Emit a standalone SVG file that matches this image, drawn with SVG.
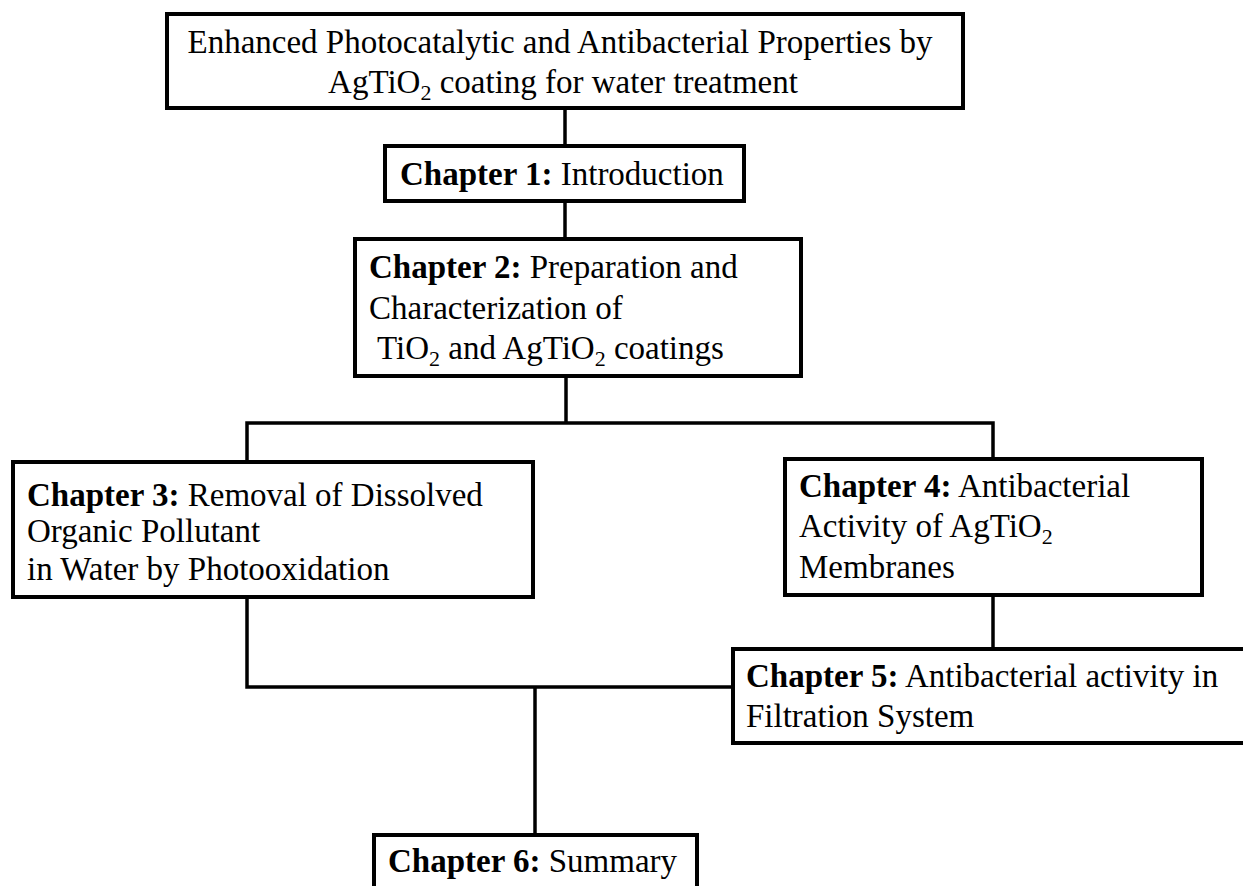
<svg xmlns="http://www.w3.org/2000/svg" width="1243" height="886" viewBox="0 0 1243 886">
<style>
.box{fill:#fff;stroke:#000;stroke-width:4}
.con{fill:none;stroke:#000;stroke-width:3.5}
text{font-family:"Liberation Serif","Times New Roman",serif;font-size:33px;fill:#000}
.b{font-weight:bold}
.sub{font-size:22px}
</style>
<rect width="1243" height="886" fill="#fff"/>
<g id="connectors">
<line class="con" x1="565" y1="108" x2="565" y2="146"/>
<line class="con" x1="565" y1="201" x2="565" y2="239"/>
<line class="con" x1="566" y1="376" x2="566" y2="423"/>
<polyline class="con" points="247,462 247,423 993,423 993,459"/>
<line class="con" x1="993" y1="595" x2="993" y2="649"/>
<polyline class="con" points="247,597 247,687 733,687"/>
<line class="con" x1="535" y1="687" x2="535" y2="835"/>
</g>
<g id="title">
<rect class="box" x="167" y="14" width="796" height="94"/>
<text x="560" y="53" text-anchor="middle">Enhanced Photocatalytic and Antibacterial Properties by</text>
<text x="563" y="93" text-anchor="middle">AgTiO<tspan class="sub" dy="7">2</tspan><tspan dy="-7"> coating for water treatment</tspan></text>
</g>
<g id="ch1">
<rect class="box" x="385" y="146" width="359" height="55"/>
<text x="400" y="185"><tspan class="b">Chapter 1:</tspan> Introduction</text>
</g>
<g id="ch2">
<rect class="box" x="355" y="239" width="446" height="137"/>
<text x="369" y="278"><tspan class="b">Chapter 2:</tspan> Preparation and</text>
<text x="369" y="319">Characterization of</text>
<text x="377" y="359">TiO<tspan class="sub" dy="7">2</tspan><tspan dy="-7"> and AgTiO</tspan><tspan class="sub" dy="7">2</tspan><tspan dy="-7"> coatings</tspan></text>
</g>
<g id="ch3">
<rect class="box" x="13" y="462" width="520" height="135"/>
<text x="27" y="506"><tspan class="b">Chapter 3:</tspan> Removal of Dissolved</text>
<text x="27" y="542">Organic Pollutant</text>
<text x="27" y="580">in Water by Photooxidation</text>
</g>
<g id="ch4">
<rect class="box" x="785" y="459" width="417" height="136"/>
<text x="799" y="497"><tspan class="b">Chapter 4:</tspan> Antibacterial</text>
<text x="799" y="537">Activity of AgTiO<tspan class="sub" dy="7">2</tspan></text>
<text x="799" y="578">Membranes</text>
</g>
<g id="ch5">
<rect class="box" x="733" y="649" width="520" height="94"/>
<text x="746" y="687"><tspan class="b">Chapter 5:</tspan> Antibacterial activity in</text>
<text x="746" y="727">Filtration System</text>
</g>
<g id="ch6">
<rect class="box" x="374" y="835" width="323" height="70"/>
<text x="388" y="872"><tspan class="b">Chapter 6:</tspan> Summary</text>
</g>
</svg>
